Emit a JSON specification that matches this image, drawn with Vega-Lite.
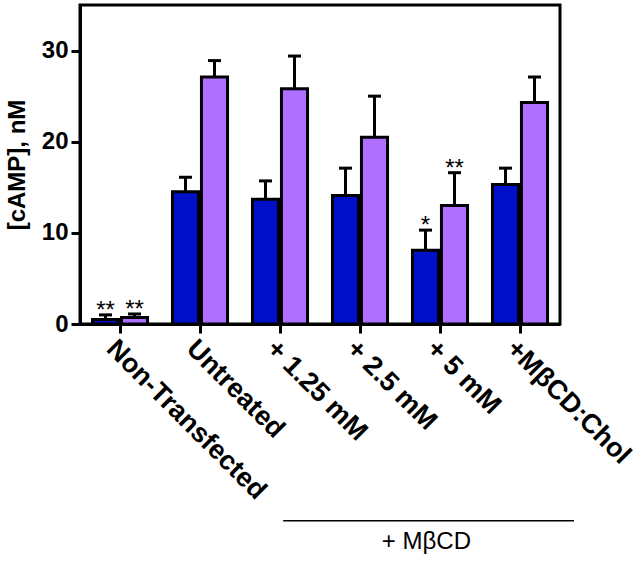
{
  "$schema": "https://vega.github.io/schema/vega-lite/v6.json",
  "width": 480,
  "height": 319,
  "padding": {"left": 5, "top": 5, "right": 5, "bottom": 5},
  "background": "white",
  "config": {
    "view": {"stroke": "black", "strokeWidth": 3},
    "font": "Liberation Sans"
  },
  "data": {
    "values": [
      {"group": "Non-Transfected", "series": "Series 1", "value": 0.5, "upper": 1.0, "sig": "**"},
      {"group": "Non-Transfected", "series": "Series 2", "value": 0.7, "upper": 1.1, "sig": "**"},
      {"group": "Untreated", "series": "Series 1", "value": 14.5, "upper": 16.1, "sig": ""},
      {"group": "Untreated", "series": "Series 2", "value": 27.1, "upper": 28.9, "sig": ""},
      {"group": "+ 1.25 mM", "series": "Series 1", "value": 13.7, "upper": 15.7, "sig": ""},
      {"group": "+ 1.25 mM", "series": "Series 2", "value": 25.8, "upper": 29.4, "sig": ""},
      {"group": "+ 2.5 mM", "series": "Series 1", "value": 14.1, "upper": 17.1, "sig": ""},
      {"group": "+ 2.5 mM", "series": "Series 2", "value": 20.5, "upper": 25.0, "sig": ""},
      {"group": "+ 5 mM", "series": "Series 1", "value": 8.1, "upper": 10.3, "sig": "*"},
      {"group": "+ 5 mM", "series": "Series 2", "value": 13.0, "upper": 16.6, "sig": "**"},
      {"group": "+MβCD:Chol", "series": "Series 1", "value": 15.3, "upper": 17.1, "sig": ""},
      {"group": "+MβCD:Chol", "series": "Series 2", "value": 24.3, "upper": 27.1, "sig": ""}
    ]
  },
  "layer": [
    {
      "mark": {"type": "bar", "stroke": "black", "strokeWidth": 3},
      "encoding": {
        "x": {
          "field": "group", "type": "nominal", "sort": null,
          "scale": {"paddingInner": 0, "paddingOuter": 0},
          "axis": {
            "title": null, "labelAngle": 45, "labelAlign": "left", "labelBaseline": "top",
            "labelFontSize": 27, "labelFontWeight": "bold", "labelColor": "black", "labelLimit": 400,
            "labelPadding": 2, "tickSize": 9, "tickWidth": 3, "tickColor": "black",
            "domainWidth": 3, "domainColor": "black"
          }
        },
        "xOffset": {
          "field": "series", "type": "nominal",
          "scale": {"paddingInner": 0.1, "paddingOuter": 0.43}
        },
        "y": {
          "field": "value", "type": "quantitative",
          "scale": {"domain": [0, 35], "nice": false},
          "axis": {
            "title": "[cAMP], nM", "titleFontSize": 24, "titleFontWeight": "bold", "titleColor": "black",
            "titlePadding": 12,
            "values": [0, 10, 20, 30], "grid": false,
            "labelFontSize": 24, "labelFontWeight": "bold", "labelColor": "black", "labelPadding": 3,
            "tickSize": 9, "tickWidth": 3, "tickColor": "black",
            "domainWidth": 3, "domainColor": "black"
          }
        },
        "color": {
          "field": "series", "type": "nominal",
          "scale": {"domain": ["Series 1", "Series 2"], "range": ["#0010C8", "#B070FF"]},
          "legend": null
        }
      }
    },
    {
      "mark": {"type": "rule", "color": "black", "strokeWidth": 3},
      "encoding": {
        "x": {"field": "group", "type": "nominal", "sort": null},
        "xOffset": {"field": "series", "type": "nominal"},
        "y": {"field": "value", "type": "quantitative", "scale": {"domain": [0, 35], "nice": false}},
        "y2": {"field": "upper"}
      }
    },
    {
      "mark": {"type": "tick", "color": "black", "thickness": 3, "size": 13, "opacity": 1},
      "encoding": {
        "x": {"field": "group", "type": "nominal", "sort": null},
        "xOffset": {"field": "series", "type": "nominal"},
        "y": {"field": "upper", "type": "quantitative", "scale": {"domain": [0, 35], "nice": false}}
      }
    },
    {
      "mark": {"type": "text", "color": "black", "fontSize": 24, "baseline": "alphabetic", "dy": 3, "align": "center"},
      "encoding": {
        "x": {"field": "group", "type": "nominal", "sort": null},
        "xOffset": {"field": "series", "type": "nominal"},
        "y": {"field": "upper", "type": "quantitative", "scale": {"domain": [0, 35], "nice": false}},
        "text": {"field": "sig"}
      }
    },
    {
      "data": {"values": [{"label": "+ MβCD"}]},
      "mark": {"type": "rule", "color": "black", "strokeWidth": 1.5},
      "encoding": {
        "x": {"datum": "+ 1.25 mM", "bandPosition": 0.54},
        "x2": {"datum": "+MβCD:Chol", "bandPosition": 1.175},
        "y": {"datum": -21.6, "type": "quantitative", "scale": {"domain": [0, 35], "nice": false}}
      }
    },
    {
      "data": {"values": [{"label": "+ MβCD"}]},
      "mark": {"type": "text", "color": "black", "fontSize": 24, "align": "center", "baseline": "middle"},
      "encoding": {
        "x": {"datum": "+ 5 mM", "bandPosition": 0.33},
        "y": {"datum": -23.9, "type": "quantitative", "scale": {"domain": [0, 35], "nice": false}},
        "text": {"field": "label"}
      }
    }
  ]
}
